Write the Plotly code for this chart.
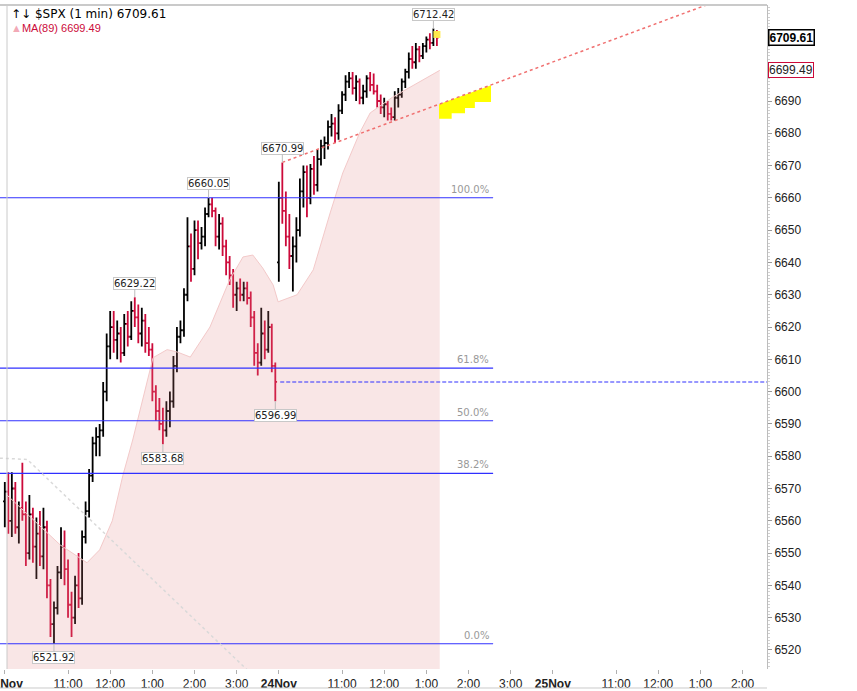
import plotly.graph_objects as go

# 5-minute bars.
# x = trading minutes since 21 Nov 09:30 (24 Nov opens at minute 390)
bar_open = [6566, 6569, 6560, 6570, 6558, 6564, 6562, 6550, 6562, 6552,
            6556, 6549, 6558, 6540, 6528, 6533, 6544, 6552, 6545, 6534,
            6530, 6540, 6536, 6555, 6563, 6574, 6584, 6586, 6588, 6600,
            6614, 6620, 6616, 6618, 6612, 6621, 6617, 6625, 6623, 6618,
            6622, 6615, 6613, 6600, 6594, 6590, 6588, 6594, 6597, 6608,
            6617, 6619, 6630, 6645, 6638, 6650, 6646, 6648, 6655, 6658,
            6656, 6648, 6652, 6645, 6640, 6636, 6630, 6632, 6630, 6632,
            6629, 6623, 6612, 6609, 6618, 6613, 6620, 6608,
            6640, 6660, 6656, 6648, 6642, 6645, 6650, 6662, 6668, 6660,
            6669, 6664, 6672, 6676, 6677, 6682, 6683, 6680, 6687, 6692,
            6696, 6697, 6694, 6696, 6691, 6693, 6697, 6695, 6693, 6690,
            6688, 6689, 6686, 6685, 6691, 6692, 6696, 6699, 6703, 6702,
            6706, 6704, 6707, 6709, 6708, 6711]
bar_high = [6572, 6575, 6575, 6572, 6566, 6578, 6566, 6568, 6564, 6561,
            6563, 6564, 6560, 6542, 6535, 6546, 6558, 6557, 6548, 6538,
            6543, 6550, 6557, 6566, 6576, 6586, 6589, 6590, 6603, 6618,
            6625, 6625, 6622, 6620, 6624, 6625, 6628, 6629.22, 6627, 6626,
            6624, 6620, 6615, 6602, 6598, 6595, 6597, 6600, 6611, 6620,
            6622, 6632, 6654, 6649, 6653, 6653, 6651, 6657, 6660.05, 6660,
            6657, 6655, 6654, 6647, 6642, 6638, 6634, 6635, 6634, 6634,
            6631, 6625, 6615, 6626, 6622, 6625, 6621, 6609,
            6665, 6670.99, 6662, 6655, 6648, 6654, 6666, 6670, 6670, 6670.5,
            6673, 6675, 6678, 6679, 6684, 6686, 6685, 6689, 6693, 6698,
            6699, 6699, 6698, 6697, 6695, 6698, 6699, 6698.5, 6695, 6692,
            6691, 6690, 6688, 6693, 6694, 6697, 6700, 6705, 6707, 6708,
            6707, 6708, 6710, 6711, 6712.42, 6712]
bar_low = [6558, 6556, 6555, 6556, 6553, 6560, 6546, 6548, 6547, 6542,
           6546, 6545, 6536, 6524, 6521.92, 6531, 6542, 6540, 6530, 6524,
           6528, 6533, 6534, 6553, 6561, 6572, 6580, 6580, 6586, 6597,
           6610, 6612, 6610, 6609, 6611, 6614, 6616, 6620, 6615, 6614,
           6612, 6611, 6597, 6591, 6588, 6583.68, 6586, 6589, 6595, 6606,
           6615, 6617, 6628, 6634, 6636, 6641, 6644, 6645, 6654, 6654,
           6645, 6644, 6642, 6636, 6633, 6626, 6625, 6628, 6628, 6627,
           6620, 6608, 6605, 6608, 6610, 6612, 6606, 6596.99,
           6634, 6652, 6645, 6638, 6631, 6640, 6648, 6657, 6654, 6658,
           6661, 6662, 6670, 6672, 6675, 6679, 6677, 6678, 6686, 6690,
           6694, 6692, 6690, 6689, 6689, 6691, 6693, 6692, 6688, 6686,
           6685, 6684, 6684, 6684, 6688, 6691, 6694, 6697, 6700, 6700,
           6702, 6703, 6705, 6706, 6707, 6707]
bar_close = [6569, 6560, 6570, 6558, 6564, 6562, 6550, 6562, 6552, 6556,
             6549, 6558, 6540, 6528, 6533, 6544, 6552, 6545, 6534, 6530,
             6540, 6536, 6555, 6563, 6574, 6584, 6586, 6588, 6600, 6614,
             6620, 6616, 6618, 6612, 6621, 6617, 6625, 6623, 6618, 6622,
             6615, 6613, 6600, 6594, 6590, 6588, 6594, 6597, 6608, 6617,
             6619, 6630, 6645, 6638, 6650, 6646, 6648, 6655, 6658, 6656,
             6648, 6652, 6645, 6640, 6636, 6630, 6632, 6630, 6632, 6629,
             6623, 6612, 6609, 6618, 6613, 6620, 6608, 6602.99,
             6660, 6656, 6648, 6642, 6645, 6650, 6662, 6668, 6660, 6669,
             6664, 6672, 6676, 6677, 6682, 6683, 6680, 6687, 6692, 6696,
             6697, 6694, 6696, 6691, 6693, 6697, 6695, 6693, 6690, 6688,
             6689, 6686, 6685, 6691, 6692, 6696, 6699, 6703, 6702, 6706,
             6704, 6707, 6709, 6708, 6711, 6709.61]
bar_minute = [5 * i for i in range(len(bar_close))]

# MA(89) as drawn on the chart
ma_minute = [3, 43, 79, 117, 135, 153, 168, 182, 192, 211, 231, 245, 264, 292,
             320, 339, 353, 367, 382, 389, 416, 439, 463, 481, 505, 520, 552,
             577, 619]
ma_value = [6568.0, 6560.0, 6552.5, 6547.0, 6551.0, 6560.0, 6574.0, 6585.0,
            6594.0, 6610.5, 6613.0, 6612.3, 6610.7, 6620.0, 6634.6, 6641.7,
            6642.3, 6638.3, 6633.0, 6627.8, 6630.0, 6637.7, 6655.3, 6667.7,
            6680.1, 6686.3, 6691.2, 6694.3, 6699.49]

# annotated swing points: (bar index, high or low)
swings = [(14, "low"), (37, "high"), (45, "low"), (58, "high"),
          (77, "low"), (79, "high"), (122, "high")]

# fibonacci retracement from the 6521.92 low to the 6660.05 high
fib_low, fib_high = 6521.92, 6660.05
fib_ratios = [0.0, 0.382, 0.5, 0.618, 1.0]
fib_end = 695

prior_close = 6602.99

# trend lines
trend_minute = [395, 1060]
trend_price = [6670.99, 6724.7]
old_trend_minute = [-7, 32, 360]
old_trend_price = [6579.4, 6579.0, 6510.7]

# yellow projection zone under the trend line
zone_minute = [618, 692, 692, 669, 669, 655, 655, 636, 636, 618]
zone_price = [6689.0, 6694.9, 6689.7, 6689.7, 6687.8, 6687.8, 6686.2,
              6686.2, 6684.5, 6684.5]

tick_minute = [0, 90, 150, 210, 270, 330, 390, 480, 540, 600, 660, 720,
               780, 870, 930, 990, 1050]
tick_text = ["<b>21Nov</b>", "11:00", "12:00", "1:00", "2:00", "3:00",
             "<b>24Nov</b>", "11:00", "12:00", "1:00", "2:00", "3:00",
             "<b>25Nov</b>", "11:00", "12:00", "1:00", "2:00"]

BLUE = "#3030FF"
RED = "#CC0A3A"
x_range = [-6.83, 1084.8]

fig = go.Figure()

# MA mountain
fig.add_trace(go.Scatter(x=ma_minute, y=ma_value, mode="lines", fill="tozeroy",
                         fillcolor="rgba(225,130,130,0.2)",
                         line=dict(color="#F3C9C9", width=1), hoverinfo="skip"))

# fib levels
for r in fib_ratios:
    lvl = fib_low + r * (fib_high - fib_low)
    fig.add_trace(go.Scatter(x=[x_range[0], fib_end], y=[lvl, lvl], mode="lines",
                             line=dict(color=BLUE, width=1.1), hoverinfo="skip"))
    fig.add_annotation(x=fib_end - 3, y=lvl, text="%.1f%%" % (r * 100),
                       xanchor="right", yanchor="bottom", showarrow=False, yshift=1,
                       font=dict(family="DejaVu Sans", size=10, color="#999999"))

# prior close
fig.add_trace(go.Scatter(x=[bar_minute[77] + 7, x_range[1]], y=[prior_close, prior_close],
                         mode="lines", line=dict(color=BLUE, width=1.1, dash="4px,2px"),
                         hoverinfo="skip"))

fig.add_trace(go.Scatter(x=old_trend_minute, y=old_trend_price, mode="lines",
                         line=dict(color="#D9D9D9", width=1.5, dash="dot"),
                         hoverinfo="skip"))

fig.add_trace(go.Scatter(x=zone_minute, y=zone_price, mode="lines", fill="toself",
                         fillcolor="#FFFF00", line=dict(width=0, color="#FFFF00"),
                         hoverinfo="skip"))

fig.add_trace(go.Scatter(x=trend_minute, y=trend_price, mode="lines",
                         line=dict(color="#F07070", width=1.5, dash="dot"),
                         hoverinfo="skip"))

# last bar highlight
fig.add_trace(go.Scatter(x=[bar_minute[-1]], y=[bar_close[-1] + 1], mode="markers",
                         marker=dict(symbol="square", size=7, color="#FFE84A"),
                         hoverinfo="skip"))

fig.add_trace(go.Ohlc(x=bar_minute, open=bar_open, high=bar_high, low=bar_low,
                      close=bar_close, tickwidth=0.5,
                      increasing=dict(line=dict(color="black", width=1.8)),
                      decreasing=dict(line=dict(color=RED, width=1.8)),
                      hoverinfo="skip"))

# swing labels
for idx, kind in swings:
    price = bar_high[idx] if kind == "high" else bar_low[idx]
    fig.add_annotation(x=bar_minute[idx], y=price, text="%.2f" % price,
                       showarrow=True, arrowhead=0, arrowwidth=1, arrowcolor="#BDBDBD",
                       ax=0, ay=-14 if kind == "high" else 14,
                       bgcolor="white", bordercolor="#C8C8C8", borderwidth=1, borderpad=0,
                       font=dict(family="DejaVu Sans", size=10, color="#222"))

# price boxes on the axis
fig.add_annotation(xref="paper", x=1, xanchor="left", xshift=1, y=bar_close[-1],
                   text="<b>%.2f</b>" % bar_close[-1], showarrow=False,
                   bgcolor="white", bordercolor="black", borderwidth=1.5, borderpad=0,
                   font=dict(family="Liberation Sans", size=12, color="black"))
fig.add_annotation(xref="paper", x=1, xanchor="left", xshift=1, y=ma_value[-1],
                   text="%.2f" % ma_value[-1], showarrow=False,
                   bgcolor="white", bordercolor=RED, borderwidth=1, borderpad=0,
                   font=dict(family="Liberation Sans", size=12, color="#222"))

# legend text
fig.add_annotation(xref="paper", yref="paper", x=0.012, y=0.9864, xanchor="left",
                   yanchor="middle", showarrow=False,
                   text="↑↓ $SPX (1 min) %.2f" % bar_close[-1],
                   font=dict(family="DejaVu Sans", size=12, color="black"))
fig.add_annotation(xref="paper", yref="paper", x=0.012, y=0.9654, xanchor="left",
                   yanchor="middle", showarrow=False,
                   text="<span style='color:#F2A9B6'>▲</span>MA(89) %.2f" % ma_value[-1],
                   font=dict(family="Liberation Sans", size=11, color=RED))

# frame
fig.add_shape(type="line", xref="paper", yref="paper", x0=0, x1=1, y0=1, y1=1,
              line=dict(color="#CACACA", width=2))
fig.add_shape(type="line", xref="paper", yref="paper", x0=7 / 767, x1=7 / 767, y0=0, y1=1,
              line=dict(color="#CACACA", width=1))
fig.add_shape(type="line", xref="paper", yref="paper", x0=0, x1=1, y0=-0.0286, y1=-0.0286,
              line=dict(color="#CACACA", width=1))

fig.update_layout(
    width=857, height=691,
    margin=dict(l=0, r=90, t=5, b=22),
    plot_bgcolor="white", paper_bgcolor="white",
    showlegend=False,
    font=dict(family="Liberation Sans", color="#222"),
    xaxis=dict(range=x_range, tickvals=tick_minute, ticktext=tick_text,
               automargin=False,
               showgrid=False, zeroline=False, showline=False,
               ticks="outside", ticklen=4, tickcolor="#B0B0B0",
               ticklabeloverflow="allow", rangeslider=dict(visible=False),
               tickfont=dict(family="Liberation Sans Narrow, Liberation Sans", size=12,
                             color="#222")),
    yaxis=dict(side="right", range=[6514.1, 6719.73], automargin=False,
               tickvals=list(range(6520, 6691, 10)),
               showgrid=False, zeroline=False, showline=True, linecolor="#BDBDBD",
               ticks="outside", ticklen=4, tickcolor="#9A9A9A",
               minor=dict(dtick=1, ticks="outside", ticklen=2, tickcolor="#D0D0D0"),
               tickfont=dict(family="Liberation Sans", size=12, color="#222")),
)

fig.write_html("out.html", config={"displayModeBar": False},
               post_script="document.body.style.margin='0px';")
